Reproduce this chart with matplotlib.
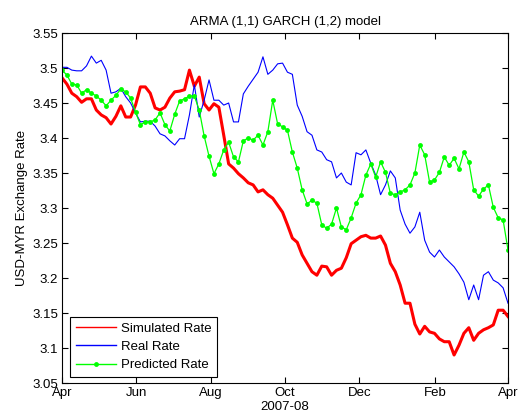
import numpy as np
import pandas as pd
import matplotlib
matplotlib.use('Agg')
import matplotlib.pyplot as plt
import matplotlib.dates as mdates
from matplotlib.lines import Line2D

plt.rcParams['font.family'] = ['Liberation Sans', 'DejaVu Sans']

# sample dates, roughly every 4 days, Apr 2007 - Apr 2008
dates = pd.date_range('2007-04-01', '2008-04-01', periods=92)

real_rate = [
    3.501, 3.501, 3.497, 3.496, 3.496, 3.503, 3.517, 3.507, 3.511, 3.497,
    3.464, 3.466, 3.471, 3.459, 3.450, 3.436, 3.423, 3.424, 3.424, 3.417,
    3.406, 3.403, 3.396, 3.390, 3.399, 3.399, 3.433, 3.476, 3.430, 3.454,
    3.483, 3.454, 3.454, 3.447, 3.450, 3.423, 3.423, 3.463, 3.474, 3.484,
    3.494, 3.516, 3.491, 3.497, 3.506, 3.507, 3.494, 3.491, 3.447, 3.431,
    3.409, 3.404, 3.383, 3.380, 3.369, 3.366, 3.343, 3.350, 3.337, 3.333,
    3.379, 3.376, 3.383, 3.364, 3.347, 3.319, 3.333, 3.353, 3.343, 3.297,
    3.277, 3.264, 3.273, 3.294, 3.254, 3.237, 3.230, 3.240, 3.230, 3.223,
    3.216, 3.206, 3.194, 3.169, 3.190, 3.169, 3.204, 3.209, 3.197, 3.193,
    3.186, 3.164,
]

simulated_rate = [
    3.486, 3.477, 3.464, 3.459, 3.451, 3.456, 3.456, 3.440, 3.433, 3.429,
    3.420, 3.431, 3.446, 3.430, 3.430, 3.447, 3.473, 3.473, 3.464, 3.443,
    3.440, 3.444, 3.457, 3.466, 3.467, 3.469, 3.497, 3.474, 3.487, 3.449,
    3.440, 3.449, 3.444, 3.404, 3.363, 3.357, 3.349, 3.343, 3.336, 3.333,
    3.323, 3.326, 3.319, 3.314, 3.304, 3.294, 3.276, 3.257, 3.251, 3.233,
    3.221, 3.209, 3.204, 3.217, 3.216, 3.204, 3.211, 3.214, 3.229, 3.249,
    3.254, 3.259, 3.261, 3.257, 3.257, 3.260, 3.247, 3.221, 3.209, 3.190,
    3.164, 3.164, 3.134, 3.120, 3.131, 3.123, 3.121, 3.113, 3.109, 3.109,
    3.090, 3.104, 3.121, 3.129, 3.111, 3.121, 3.126, 3.129, 3.133, 3.154,
    3.154, 3.145,
]

predicted_rate = [
    3.497, 3.490, 3.477, 3.476, 3.464, 3.469, 3.464, 3.460, 3.454, 3.446,
    3.454, 3.461, 3.470, 3.466, 3.457, 3.437, 3.419, 3.423, 3.423, 3.426,
    3.436, 3.419, 3.410, 3.434, 3.453, 3.456, 3.460, 3.460, 3.440, 3.403,
    3.374, 3.349, 3.363, 3.383, 3.394, 3.373, 3.366, 3.396, 3.400, 3.397,
    3.404, 3.390, 3.409, 3.454, 3.420, 3.416, 3.411, 3.380, 3.357, 3.326,
    3.306, 3.311, 3.307, 3.276, 3.271, 3.277, 3.300, 3.273, 3.269, 3.286,
    3.307, 3.319, 3.347, 3.363, 3.344, 3.366, 3.351, 3.321, 3.319, 3.323,
    3.326, 3.333, 3.350, 3.390, 3.376, 3.337, 3.340, 3.351, 3.373, 3.361,
    3.371, 3.356, 3.380, 3.366, 3.326, 3.317, 3.327, 3.333, 3.301, 3.286,
    3.283, 3.240,
]

yticks = [3.05, 3.1, 3.15, 3.2, 3.25, 3.3, 3.35, 3.4, 3.45, 3.5, 3.55]
xtick_dates = pd.to_datetime(['2007-04-01', '2007-06-01', '2007-08-01', '2007-10-01',
                              '2007-12-01', '2008-02-01', '2008-04-01'])

fig = plt.figure(figsize=(5.18, 4.19), dpi=100)
ax = fig.add_axes([0.1197, 0.0859, 0.861, 0.8353])

ax.plot(dates, simulated_rate, color='#ff0000', linewidth=2.2)
ax.plot(dates, real_rate, color='#0000ff', linewidth=0.8)
ax.plot(dates, predicted_rate, color='#00ff00', linewidth=0.9,
        marker='o', markersize=3.5, markeredgewidth=0)

ax.set_xlim(xtick_dates[0], xtick_dates[-1])
ax.set_ylim(3.05, 3.55)
ax.set_xticks(xtick_dates)
ax.xaxis.set_major_formatter(mdates.DateFormatter('%b'))
ax.set_yticks(yticks)
ax.set_yticklabels(['%g' % t for t in yticks])
ax.tick_params(direction='in', top=True, right=True, labelsize=9.5, length=4, width=0.8, pad=3)
for s in ax.spines.values():
    s.set_linewidth(0.8)

ax.set_title('ARMA (1,1) GARCH (1,2) model', fontsize=9.5, pad=6)
ax.set_xlabel('2007-08', fontsize=9.5, labelpad=1)
ax.set_ylabel('USD-MYR Exchange Rate', fontsize=9.5, labelpad=3)

handles = [
    Line2D([], [], color='#ff0000', linewidth=1.0),
    Line2D([], [], color='#0000ff', linewidth=1.0),
    Line2D([], [], color='#00ff00', linewidth=1.0, marker='o', markersize=3.5, markeredgewidth=0),
]
leg = ax.legend(handles, ['Simulated Rate', 'Real Rate', 'Predicted Rate'],
                loc='lower left', bbox_to_anchor=(0.018, 0.017), borderaxespad=0,
                fancybox=False, edgecolor='black', framealpha=1, fontsize=9.5,
                handlelength=3.0, handletextpad=0.4, labelspacing=0.45, borderpad=0.45)
leg.get_frame().set_linewidth(0.8)

fig.savefig('out.png', dpi=100)
